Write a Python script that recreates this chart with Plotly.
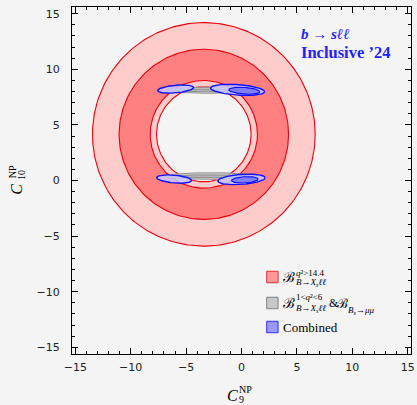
import numpy as np
import plotly.graph_objects as go

# ---- data -------------------------------------------------------------
# ring constraint from B(q^2 > 14.4): common centre and radii (2 sigma, 1 sigma)
RING_C9, RING_C10 = -3.4, 4.15
RING_OUTER = [10.05, 7.65]   # outer radius of 2σ / 1σ annulus
RING_INNER = [4.27, 4.84]    # inner radius of 2σ / 1σ annulus

# B(1<q^2<6) & B(Bs->mumu) bands (ellipse approximation): 2σ then 1σ
GRAY_C9 = [-2.85, -2.80, -2.85, -2.80]
GRAY_C10 = [8.12, 0.40, 8.10, 0.38]
GRAY_A = [3.85, 3.90, 3.40, 3.45]
GRAY_B = [0.28, 0.30, 0.12, 0.13]
GRAY_LEVEL = ["2s", "2s", "1s", "1s"]

# combined fit regions: 2σ ellipses
COMB2_C9 = [-5.95, -0.35, -6.08, 0.00]
COMB2_C10 = [8.22, 8.15, 0.13, 0.10]
COMB2_A = [1.63, 2.45, 1.58, 2.14]
COMB2_B = [0.34, 0.47, 0.35, 0.45]
COMB2_ANG = [5, -4, -5, 4]
# combined fit regions: 1σ ellipses
COMB1_C9 = [0.25, 0.30]
COMB1_C10 = [8.07, 0.06]
COMB1_A = [1.40, 1.20]
COMB1_B = [0.30, 0.28]
COMB1_ANG = [-4, 3]

TICKS = [-15, -10, -5, 0, 5, 10, 15]

# ---- layout geometry (pixels) ----------------------------------------
W, H = 417, 405
L, R, T, B = 72, 2, 7, 51
PW, PH = W - L - R, H - T - B


def px(x):
    return (x - L) / PW


def py(y):
    return (H - B - y) / PH


def circle(cx, cy, r, n=240):
    t = np.linspace(0, 2 * np.pi, n)
    return cx + r * np.cos(t), cy + r * np.sin(t)


def ellipse(cx, cy, a, b, ang=0.0, n=160):
    t = np.linspace(0, 2 * np.pi, n)
    th = np.deg2rad(ang)
    x0, y0 = a * np.cos(t), b * np.sin(t)
    return cx + x0 * np.cos(th) - y0 * np.sin(th), cy + x0 * np.sin(th) + y0 * np.cos(th)


BG = "#f4f4f4"
RED = "#e8000b"
fig = go.Figure()

# filled discs, layered from the outside in
disc_r = [RING_OUTER[0], RING_OUTER[1], RING_INNER[1], RING_INNER[0]]
disc_fill = ["#ffcccc", "#ff8080", "#ffcccc", BG]
for r, fc in zip(disc_r, disc_fill):
    x, y = circle(RING_C9, RING_C10, r)
    fig.add_trace(go.Scatter(x=x, y=y, mode="lines", fill="toself", fillcolor=fc,
                             line=dict(color=RED, width=1.1), hoverinfo="skip",
                             showlegend=False))

# gray bands
for cx, cy, a, b, lev in zip(GRAY_C9, GRAY_C10, GRAY_A, GRAY_B, GRAY_LEVEL):
    x, y = ellipse(cx, cy, a, b)
    fc = "rgba(205,205,205,0.9)" if lev == "2s" else "rgba(175,175,175,0.9)"
    fig.add_trace(go.Scatter(x=x, y=y, mode="lines", fill="toself", fillcolor=fc,
                             line=dict(color="#909090", width=1), hoverinfo="skip",
                             showlegend=False))

# combined regions
for cx, cy, a, b, ang in zip(COMB2_C9, COMB2_C10, COMB2_A, COMB2_B, COMB2_ANG):
    x, y = ellipse(cx, cy, a, b, ang)
    fig.add_trace(go.Scatter(x=x, y=y, mode="lines", fill="toself",
                             fillcolor="rgba(200,200,255,0.85)",
                             line=dict(color="#1010ff", width=1.4), hoverinfo="skip",
                             showlegend=False))
for cx, cy, a, b, ang in zip(COMB1_C9, COMB1_C10, COMB1_A, COMB1_B, COMB1_ANG):
    x, y = ellipse(cx, cy, a, b, ang)
    fig.add_trace(go.Scatter(x=x, y=y, mode="lines", fill="toself",
                             fillcolor="rgba(120,120,255,0.9)",
                             line=dict(color="#1010ff", width=1.2), hoverinfo="skip",
                             showlegend=False))

axis_common = dict(
    tickvals=TICKS, ticks="inside", ticklen=6, tickwidth=1, tickcolor="black",
    showline=True, linecolor="black", linewidth=1, mirror="ticks",
    showgrid=False, zeroline=False, ticklabeloverflow="allow",
    minor=dict(ticks="inside", ticklen=3, dtick=1, tick0=0, tickcolor="black",
               showgrid=False),
    tickfont=dict(family="DejaVu Sans", size=11, color="#222"),
)

fig.update_layout(
    width=W, height=H,
    margin=dict(l=L, r=R, t=T, b=B),
    paper_bgcolor=BG, plot_bgcolor=BG,
    xaxis=dict(range=[-15.3, 15.3], ticklabelstandoff=3, **axis_common),
    yaxis=dict(range=[-15.6, 15.6], ticklabelstandoff=9, **axis_common),
    showlegend=False,
)

SERIF = "Liberation Serif"
ann = []


def text(x, y, s, size, xanchor="left", yanchor="middle", color="black",
         family=SERIF, angle=0):
    ann.append(dict(x=px(x), y=py(y), xref="paper", yref="paper", text=s,
                    showarrow=False, xanchor=xanchor, yanchor=yanchor,
                    font=dict(family=family, size=size, color=color),
                    textangle=angle, borderpad=0))


# axis titles
text(234, 395.5, "<i>C</i>", 16, xanchor="center")
text(240, 389, "NP", 10)
text(240, 399, "9", 10)
text(15.5, 189.5, "<i>C</i>", 16, angle=-90, xanchor="center")
text(12, 171.5, "NP", 10, angle=-90, xanchor="center")
text(20.5, 175, "10", 10, angle=-90, xanchor="center")

# panel label
BLUE = "#2222ff"
text(303, 34, "<b><i>b</i> → <i>sℓℓ</i></b>", 15, color=BLUE)
text(303, 52, "<b>Inclusive ’24</b>", 16.5, color=BLUE)

# legend
leg_sq = [(277, "#ff9999", "#e03030"), (303, "#c8c8c8", "#808080"), (327, "#9999ff", "#3030ff")]
shapes = []
for yc, fc, lc in leg_sq:
    shapes.append(dict(type="rect", xref="paper", yref="paper",
                       x0=px(269), x1=px(280.5), y0=py(yc - 5.75), y1=py(yc + 5.75),
                       fillcolor=fc, line=dict(color=lc, width=1)))

text(284, 277, "ℬ", 14, family="DejaVu Serif")
text(298, 272.5, "<i>q</i>²&gt;14.4", 9)
text(298, 282.5, "<i>B</i>→<i>X<sub>s</sub>ℓℓ</i>", 9)

text(284, 303, "ℬ", 14, family="DejaVu Serif")
text(298, 297, "1&lt;<i>q</i>²&lt;6", 9)
text(298, 308.5, "<i>B</i>→<i>X<sub>s</sub>ℓℓ</i>", 9)
text(331, 303, "&amp;", 12)
text(339.5, 303, "ℬ", 13, family="DejaVu Serif")
text(350, 310, "<i>B<sub>s</sub></i>→<i>μμ</i>", 9)

text(284, 327.5, "Combined", 13)

fig.update_layout(annotations=ann, shapes=shapes)
fig.write_html("out.html")
